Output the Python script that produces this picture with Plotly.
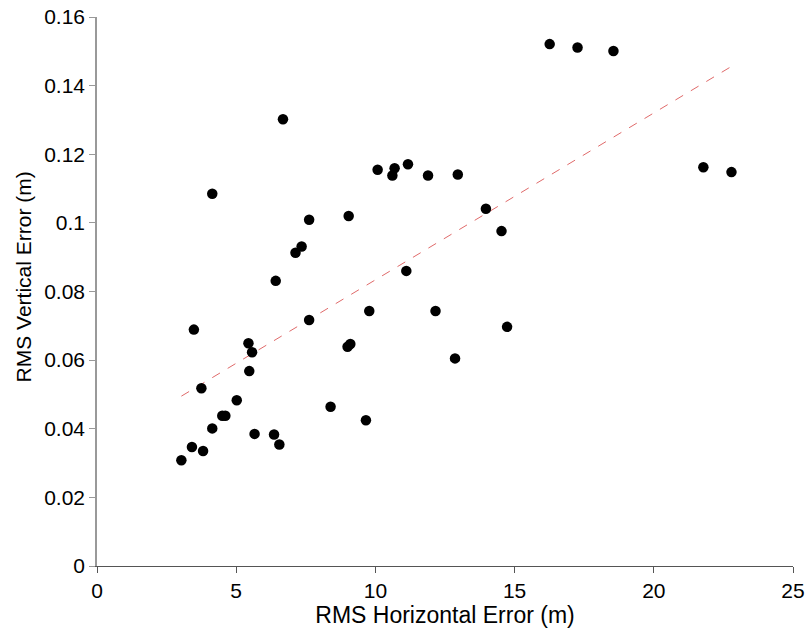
import plotly.graph_objects as go

# RMS horizontal error (m) and RMS vertical error (m)
horiz = [3.03, 3.41, 3.81, 3.48, 3.75, 4.14, 4.50, 4.61, 5.02, 5.44, 5.57, 5.47, 5.66,
         6.36, 6.55, 7.62, 8.39, 9.00, 9.10, 9.66, 9.78, 6.68, 4.14, 10.08, 10.61, 10.69,
         7.62, 7.13, 7.35, 6.42, 9.04, 16.26, 17.26, 18.55, 21.78, 22.79, 11.17, 11.89,
         12.96, 13.97, 14.53, 11.11, 12.16, 14.73, 12.86]
vert = [0.0308, 0.0347, 0.0335, 0.0689, 0.0518, 0.0401, 0.0438, 0.0438, 0.0483, 0.0649,
        0.0623, 0.0568, 0.0385, 0.0383, 0.0354, 0.0717, 0.0464, 0.0639, 0.0647, 0.0425,
        0.0743, 0.1302, 0.1085, 0.1155, 0.1138, 0.1159, 0.1009, 0.0913, 0.0931, 0.0831,
        0.1020, 0.1521, 0.1511, 0.1501, 0.1162, 0.1148, 0.1171, 0.1138, 0.1141, 0.1041,
        0.0976, 0.0860, 0.0743, 0.0697, 0.0605]

trend_x = [min(horiz), max(horiz)]
trend_y = [0.0495, 0.1456]

x_ticks = [0, 5, 10, 15, 20, 25]
y_ticks = [0, 0.02, 0.04, 0.06, 0.08, 0.1, 0.12, 0.14, 0.16]
y_labels = ["0", "0.02", "0.04", "0.06", "0.08", "0.1", "0.12", "0.14", "0.16"]

fig = go.Figure()
fig.add_trace(go.Scatter(x=trend_x, y=trend_y, mode="lines",
                         line=dict(color="#e06a6a", width=1, dash="dash"),
                         showlegend=False, hoverinfo="skip"))
fig.add_trace(go.Scatter(x=horiz, y=vert, mode="markers",
                         marker=dict(color="black", size=10.5),
                         showlegend=False))

font = dict(family="Liberation Sans, Arial, sans-serif", size=21, color="black")
fig.update_layout(
    width=808, height=638,
    margin=dict(l=97, r=15, t=17, b=72),
    paper_bgcolor="white", plot_bgcolor="white",
    font=font,
    xaxis=dict(range=[0, 25], tickvals=x_ticks, ticks="outside", ticklen=6,
               tickcolor="#555555", showline=True, linecolor="#555555", linewidth=1,
               showgrid=False, zeroline=False, automargin=False,
               title=dict(text="RMS Horizontal Error (m)", font=dict(size=23), standoff=2)),
    yaxis=dict(range=[0, 0.16], tickvals=y_ticks, ticktext=y_labels, ticks="outside",
               ticklen=6, tickcolor="#999999", showline=True, linecolor="#999999",
               linewidth=1.5, showgrid=False, zeroline=False, automargin=False),
    annotations=[dict(text="RMS Vertical Error (m)", textangle=-90, showarrow=False,
                      xref="paper", yref="paper", x=-0.106, y=0.526,
                      xanchor="center", yanchor="middle", font=dict(size=21))],
)

fig.write_html("out.html")
